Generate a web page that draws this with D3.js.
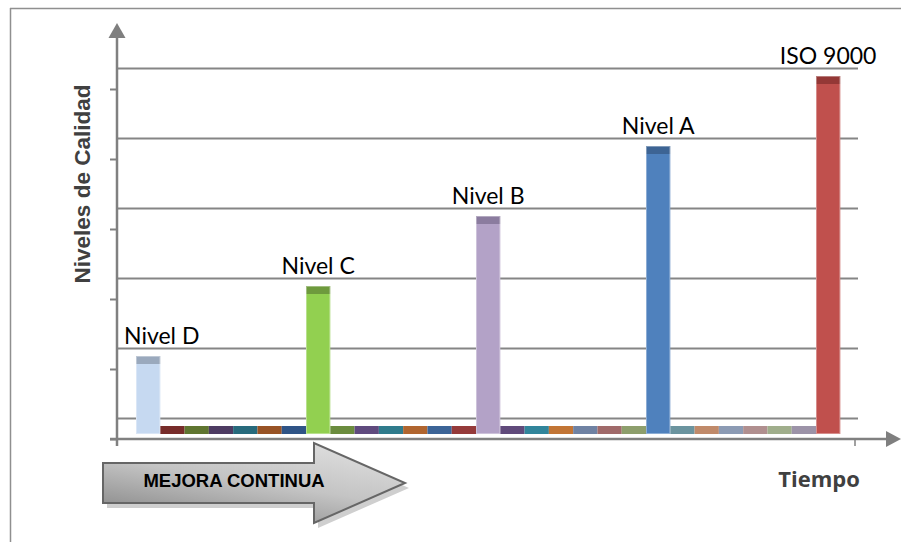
<!DOCTYPE html>
<html>
<head>
<meta charset="utf-8">
<script src="https://cdn.jsdelivr.net/npm/d3@7"></script>
<style>
  html, body { margin: 0; padding: 0; background: #fff; }
  svg { display: block; }
</style>
</head>
<body>
<svg id="chart" width="901" height="542"></svg>
<script>
// Quality levels reached over time; the in-between periods sit at zero.
const periods = ["P1","P2","P3","P4","P5","P6","P7","P8","P9","P10","P11","P12","P13","P14","P15",
                 "P16","P17","P18","P19","P20","P21","P22","P23","P24","P25","P26","P27","P28","P29"];
const levels  = [1,0,0,0,0,0,0, 2,0,0,0,0,0,0, 3,0,0,0,0,0,0, 4,0,0,0,0,0,0, 5];
const levelLabels = ["Nivel D","","","","","","", "Nivel C","","","","","","", "Nivel B","","","","","","",
                     "Nivel A","","","","","","", "ISO 9000"];
// front face colours
const faceColors = ["#c6d9f1","#953735","#76923c","#5f497a","#31859c","#e46c0a","#376092",
                    "#92d050","#77933c","#604a7b","#31859c","#c0712f","#3e659a","#963b3a",
                    "#b3a2c7","#614b7d","#32869c","#c3762f","#7081a4","#a26a6a","#8f9f6d",
                    "#4f81bd","#6c949f","#c18a6b","#8d9bb4","#b18f8f","#a1ae8d","#9d94a9","#c0504d"];
// top cap colours
const capColors  = ["#9aa9bd","#772c2a","#5f7530","#4d3b62","#276a7c","#985325","#2f5486",
                    "#6e9a3d","#6b8c3e","#5f4a7e","#2f7b8c","#b0652f","#3c6497","#953a3a",
                    "#8b7c9f","#604a7b","#31859b","#c27535","#6f82a3","#a06a6a","#8d9e6c",
                    "#3d6494","#6b949f","#c08a6a","#8c9bb4","#b08f8f","#a0ae8c","#9c93a8","#943836"];
const gridLevels = [0,1,2,3,4,5];

const svg = d3.select("#chart");
const defs = svg.append("defs");

const x = d3.scaleBand().domain(periods).range([136, 840.3]).padding(0);
const y = d3.scaleLinear().domain([0, 5]).range([434, 84]);
const capH = 8;      // depth of the bar top face
const backShift = 15.5; // back wall offset for gridlines
const axisX = 117, axisY = 439;

// outer frame
svg.append("line").attr("x1", 10).attr("x2", 901).attr("y1", 8.5).attr("y2", 8.5)
  .attr("stroke", "#8f8f8f").attr("stroke-width", 1.5);
svg.append("line").attr("x1", 10.5).attr("x2", 10.5).attr("y1", 8).attr("y2", 542)
  .attr("stroke", "#8f8f8f").attr("stroke-width", 1.5);

// back wall gridlines
svg.append("g").selectAll("line").data(gridLevels).join("line")
  .attr("x1", axisX).attr("x2", 858)
  .attr("y1", d => y(d) - backShift).attr("y2", d => y(d) - backShift)
  .attr("stroke", "#858585").attr("stroke-width", 2);

// y axis ticks (front edge)
const yFront = d3.scaleLinear().domain([0, 5]).range([434 + 5, 84 + 5]);
const yAxis = svg.append("g").attr("transform", `translate(${axisX},0)`)
  .call(d3.axisLeft(yFront).tickValues(gridLevels).tickSize(7).tickFormat(""));
yAxis.select(".domain").remove();
yAxis.selectAll(".tick line").attr("stroke", "#808080").attr("stroke-width", 2);

// arrow heads
svg.append("path").attr("d", `M${axisX - 8.5},38 L${axisX},23 L${axisX + 8.5},38 Z`).attr("fill", "#7f7f7f");
svg.append("line").attr("x1", axisX).attr("x2", axisX).attr("y1", 36).attr("y2", 446)
  .attr("stroke", "#808080").attr("stroke-width", 2.5);

// bars
const bars = svg.append("g");
bars.selectAll("rect.face").data(periods).join("rect")
  .attr("class", "face")
  .attr("x", d => x(d)).attr("width", x.bandwidth())
  .attr("y", (d, i) => y(levels[i]))
  .attr("height", (d, i) => y(0) - y(levels[i]))
  .attr("fill", (d, i) => faceColors[i]);
bars.selectAll("rect.cap").data(periods).join("rect")
  .attr("class", "cap")
  .attr("x", d => x(d)).attr("width", x.bandwidth())
  .attr("y", (d, i) => y(levels[i]) - capH)
  .attr("height", capH)
  .attr("fill", (d, i) => capColors[i]);
// light edge on the tall bars
bars.selectAll("rect.edge").data(periods.filter((d, i) => levels[i] > 0)).join("rect")
  .attr("class", "edge")
  .attr("x", d => x(d) + 0.5).attr("width", x.bandwidth() - 1)
  .attr("y", d => y(levels[periods.indexOf(d)]) - capH + 0.5)
  .attr("height", d => y(0) - y(levels[periods.indexOf(d)]) + capH - 1)
  .attr("fill", "none").attr("stroke", "rgba(255,255,255,0.35)").attr("stroke-width", 1);

// x axis
svg.append("line").attr("x1", axisX - 7).attr("x2", 887).attr("y1", axisY).attr("y2", axisY)
  .attr("stroke", "#808080").attr("stroke-width", 2.5);
svg.append("path").attr("d", `M886,${axisY - 8} L901,${axisY} L886,${axisY + 8} Z`).attr("fill", "#7f7f7f");
svg.append("line").attr("x1", 855).attr("x2", 855).attr("y1", axisY).attr("y2", 446)
  .attr("stroke", "#808080").attr("stroke-width", 1.5);

// level labels
const lab = svg.append("g").selectAll("text")
  .data(periods.filter((d, i) => levelLabels[i] !== "")).join("text")
  .attr("font-family", "Lato, 'Open Sans', sans-serif")
  .attr("font-size", 23)
  .attr("fill", "#000")
  .attr("text-anchor", "middle")
  .attr("y", d => y(levels[periods.indexOf(d)]) - capH - 12)
  .text(d => levelLabels[periods.indexOf(d)]);
lab.each(function(d) {
  const w = this.getComputedTextLength();
  const cx = x(d) + x.bandwidth() / 2;
  const minLeft = 124;
  d3.select(this).attr("x", Math.max(cx, minLeft + w / 2));
});

// axis titles
svg.append("text")
  .attr("transform", "translate(90,184) rotate(-90)")
  .attr("text-anchor", "middle")
  .attr("font-family", "'Liberation Sans', Arial, sans-serif")
  .attr("font-weight", "bold").attr("font-size", 22.5)
  .attr("fill", "#404040")
  .text("Niveles de Calidad");
svg.append("text")
  .attr("x", 819).attr("y", 487)
  .attr("text-anchor", "middle")
  .attr("font-family", "'Open Sans', sans-serif")
  .attr("font-weight", "bold").attr("font-size", 22)
  .attr("fill", "#404040")
  .text("Tiempo");

// "MEJORA CONTINUA" block arrow
const grad = defs.append("linearGradient").attr("id", "arrowGrad")
  .attr("x1", 0).attr("y1", 1).attr("x2", 0.6).attr("y2", 0);
grad.append("stop").attr("offset", 0).attr("stop-color", "#7e7e7e");
grad.append("stop").attr("offset", 0.6).attr("stop-color", "#c4c4c4");
grad.append("stop").attr("offset", 1).attr("stop-color", "#dadada");
const arrowPath = "M103,463 L314,463 L314,443 L405,483 L314,523 L314,503 L103,503 Z";
svg.append("path").attr("d", arrowPath).attr("transform", "translate(4,5)")
  .attr("fill", "#cfcfcf");
svg.append("path").attr("d", arrowPath)
  .attr("fill", "url(#arrowGrad)").attr("stroke", "#666").attr("stroke-width", 2)
  .attr("stroke-linejoin", "miter");
svg.append("text")
  .attr("x", 234).attr("y", 487)
  .attr("text-anchor", "middle")
  .attr("font-family", "'Liberation Sans', Arial, sans-serif")
  .attr("font-weight", "bold").attr("font-size", 18.5)
  .attr("fill", "#000")
  .text("MEJORA CONTINUA");
</script>
</body>
</html>
